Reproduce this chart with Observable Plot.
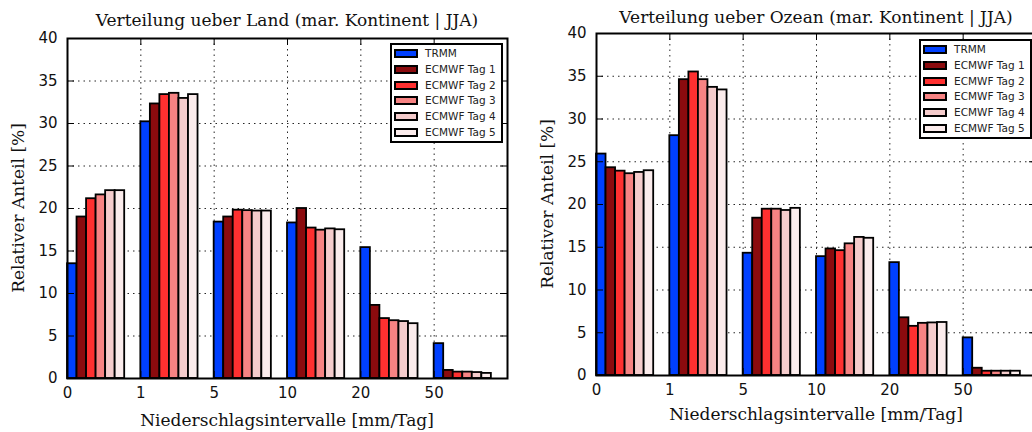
<!DOCTYPE html>
<html><head><meta charset="utf-8">
<script src="https://cdn.jsdelivr.net/npm/d3@7"></script>
<script src="https://cdn.jsdelivr.net/npm/@observablehq/plot@0.6"></script>
<style>
html,body{margin:0;padding:0;background:#fff;overflow:hidden}
#wrap{position:relative;width:1032px;height:432px;overflow:hidden;background:#fff}
.panel{position:absolute;top:0}
.panel svg{display:block;max-width:none !important;height:auto}
.txt{position:absolute;font-family:"DejaVu Serif",serif;font-size:17px;color:#111;white-space:nowrap;line-height:1}
.legend{position:absolute;box-sizing:border-box;border:2px solid #000;background:#fff;width:113px;height:100px}
.entry{position:absolute;left:2px;height:16px;font-family:"DejaVu Sans",sans-serif;font-size:10.5px;color:#222;white-space:nowrap}
.patch{position:absolute;box-sizing:border-box;width:24px;height:9px;border:2px solid #000}
</style></head>
<body><div id="wrap"></div>
<script>
// ---- data ----
const intervals = ["0", "1", "5", "10", "20", "50"];
const series = ["TRMM", "ECMWF Tag 1", "ECMWF Tag 2", "ECMWF Tag 3", "ECMWF Tag 4", "ECMWF Tag 5"];
const colors = ["#0040ff", "#8b0b0e", "#ff3030", "#f78383", "#f5cccc", "#fbecec"];

// Land (left panel), per series: values for the 6 intervals
const landTRMM = [13.5, 30.2, 18.4, 18.3, 15.4, 4.1];
const landTag1 = [19.0, 32.3, 19.0, 20.0, 8.6, 0.95];
const landTag2 = [21.15, 33.4, 19.8, 17.7, 7.05, 0.75];
const landTag3 = [21.6, 33.55, 19.75, 17.45, 6.8, 0.75];
const landTag4 = [22.1, 32.95, 19.7, 17.6, 6.7, 0.7];
const landTag5 = [22.1, 33.4, 19.7, 17.5, 6.45, 0.6];

// Ozean (right panel)
const oceanTRMM = [25.9, 28.05, 14.3, 13.9, 13.2, 4.4];
const oceanTag1 = [24.3, 34.6, 18.4, 14.8, 6.75, 0.85];
const oceanTag2 = [23.9, 35.5, 19.45, 14.6, 5.75, 0.5];
const oceanTag3 = [23.6, 34.6, 19.45, 15.4, 6.1, 0.5];
const oceanTag4 = [23.75, 33.7, 19.3, 16.15, 6.15, 0.5];
const oceanTag5 = [23.95, 33.4, 19.55, 16.05, 6.2, 0.5];

const yTicks = [0, 5, 10, 15, 20, 25, 30, 35, 40];

const barW = 0.13;
function table(arrs) {
  const rows = [];
  arrs.forEach((arr, k) => arr.forEach((v, g) => rows.push({group: g, k, series: series[k], value: v})));
  return rows;
}
const landData = table([landTRMM, landTag1, landTag2, landTag3, landTag4, landTag5]);
const oceanData = table([oceanTRMM, oceanTag1, oceanTag2, oceanTag3, oceanTag4, oceanTag5]);

const wrap = document.getElementById("wrap");

function makePanel(data, opts) {
  const plotW = 440, plotH = opts.height - opts.marginTop - opts.marginBottom;
  const xTicks = d3.range(intervals.length);
  const W = opts.marginLeft + plotW + opts.marginRight;
  const chart = Plot.plot({
    width: W,
    height: opts.height,
    marginLeft: opts.marginLeft, marginRight: opts.marginRight,
    marginTop: opts.marginTop, marginBottom: opts.marginBottom,
    style: {fontFamily: "DejaVu Sans, sans-serif", fontSize: "15px", color: "#111", background: "#fff", overflow: "visible", maxWidth: "none"},
    x: {domain: [0, 6]},
    y: {domain: [0, 40]},
    color: {domain: series, range: colors},
    marks: [
      Plot.gridX(xTicks.filter(d => d > 0), {stroke: "#000", strokeOpacity: 0.85, strokeWidth: 1, strokeDasharray: "1.5,4"}),
      Plot.gridY(yTicks.filter(d => d > 0 && d < 40), {stroke: "#000", strokeOpacity: 0.85, strokeWidth: 1, strokeDasharray: "1.5,4"}),
      Plot.rectY(data, {
        x1: d => d.group + d.k * barW,
        x2: d => d.group + (d.k + 1) * barW,
        y: "value",
        fill: "series",
        stroke: "#000",
        strokeWidth: 1.8
      }),
      // inward ticks on all four sides
      Plot.tickY(yTicks, {y: d => d, insetRight: plotW - 7, stroke: "#000", strokeWidth: 1}),
      Plot.tickY(yTicks, {y: d => d, insetLeft: plotW - 7, stroke: "#000", strokeWidth: 1}),
      Plot.tickX(xTicks, {x: d => d, insetTop: plotH - 7, stroke: "#000", strokeWidth: 1}),
      Plot.tickX(xTicks, {x: d => d, insetBottom: plotH - 7, stroke: "#000", strokeWidth: 1}),
      Plot.axisX(xTicks, {tickSize: 0, tickPadding: 9, tickFormat: i => intervals[i], label: null}),
      Plot.axisY(yTicks, {tickSize: 0, tickPadding: 10, label: null}),
      Plot.frame({stroke: "#000", strokeWidth: 2})
    ]
  });
  chart.style.maxWidth = "none";
  chart.setAttribute("width", W);
  chart.setAttribute("height", opts.height);
  const div = document.createElement("div");
  div.className = "panel";
  div.style.left = opts.left + "px";
  div.style.width = W + "px";
  div.style.height = opts.height + "px";
  div.appendChild(chart);
  wrap.appendChild(div);

  const axL = opts.left + opts.marginLeft;
  const cx = axL + plotW / 2;
  const cy = opts.marginTop + plotH / 2;

  const title = document.createElement("div");
  title.className = "txt";
  title.textContent = opts.title;
  title.style.left = cx + "px";
  title.style.top = opts.titleTop + "px";
  title.style.transform = "translateX(-50%)";
  wrap.appendChild(title);

  const xl = document.createElement("div");
  xl.className = "txt";
  xl.textContent = "Niederschlagsintervalle [mm/Tag]";
  xl.style.left = cx + "px";
  xl.style.top = opts.xLabelTop + "px";
  xl.style.transform = "translateX(-50%)";
  wrap.appendChild(xl);

  const yl = document.createElement("div");
  yl.className = "txt";
  yl.textContent = "Relativer Anteil [%]";
  yl.style.left = (opts.left + 18) + "px";
  yl.style.top = cy + "px";
  yl.style.transform = "translate(-50%,-50%) rotate(-90deg)";
  wrap.appendChild(yl);

  const lg = document.createElement("div");
  lg.className = "legend";
  lg.style.left = opts.legendLeft + "px";
  lg.style.top = opts.legendTop + "px";
  series.forEach((s, i) => {
    const e = document.createElement("div");
    e.className = "entry";
    e.style.top = (1 + i * 15.8) + "px";
    const p = document.createElement("div");
    p.className = "patch";
    p.style.left = "0px";
    p.style.top = "3px";
    p.style.background = colors[i];
    const t = document.createElement("span");
    t.textContent = s;
    t.style.position = "absolute";
    t.style.left = "31px";
    t.style.top = "1px";
    e.appendChild(p);
    e.appendChild(t);
    lg.appendChild(e);
  });
  wrap.appendChild(lg);
}

makePanel(landData, {left: 0, marginLeft: 67, marginRight: 13, marginTop: 38, marginBottom: 54, height: 432,
  title: "Verteilung ueber Land (mar. Kontinent | JJA)", titleTop: 12, xLabelTop: 412, legendLeft: 390, legendTop: 43});
makePanel(oceanData, {left: 529, marginLeft: 67, marginRight: 10, marginTop: 33, marginBottom: 57, height: 432,
  title: "Verteilung ueber Ozean (mar. Kontinent | JJA)", titleTop: 9, xLabelTop: 406, legendLeft: 919, legendTop: 39});
</script>
</body></html>
